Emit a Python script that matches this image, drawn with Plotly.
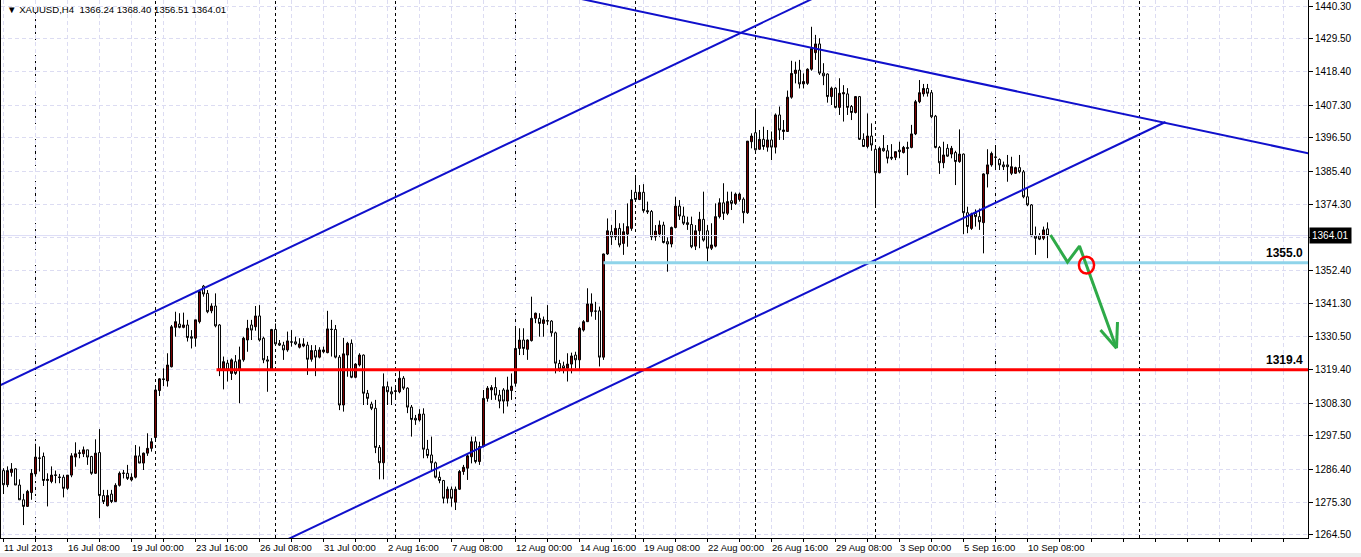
import plotly.graph_objects as go

# ---------------- data ----------------
symbol_title = "▼ XAUUSD,H4  1366.24 1368.40 1356.51 1364.01"

opens = [1285.9,1281.2,1285.3,1286.5,1281.1,1276.2,1274.0,1278.6,1284.8,1290.1,
 1290.6,1282.6,1282.3,1284.5,1283.8,1283.7,1280.0,1284.4,1290.4,1291.6,
 1291.5,1292.8,1290.6,1285.0,1291.9,1277.6,1274.2,1278.1,1275.6,1281.0,
 1285.1,1285.0,1282.8,1283.7,1290.8,1288.4,1291.7,1293.3,1296.9,1312.5,
 1316.4,1315.7,1320.4,1333.5,1334.6,1333.5,1334.3,1330.4,1329.9,1335.4,
 1347.2,1344.8,1339.0,1340.6,1334.3,1319.3,1321.6,1318.2,1322.1,1319.3,
 1322.7,1329.3,1334.3,1333.7,1337.3,1329.9,1322.7,1319.3,1332.8,1328.2,
 1327.6,1326.0,1328.7,1328.7,1326.9,1327.3,1327.6,1322.9,1325.8,1323.6,
 1325.4,1325.1,1332.9,1332.8,1323.6,1307.7,1324.3,1328.2,1316.9,1321.0,
 1324.3,1311.6,1308.0,1306.6,1293.6,1288.5,1313.8,1312.1,1312.2,1312.1,
 1316.6,1313.3,1307.0,1303.3,1302.7,1304.7,1293.0,1291.1,1288.5,1283.7,
 1282.6,1276.7,1279.7,1275.4,1279.7,1285.6,1286.7,1290.5,1295.5,1288.9,
 1293.9,1309.9,1312.7,1313.5,1311.0,1312.7,1309.0,1312.5,1314.9,1326.5,
 1329.3,1326.2,1329.1,1336.5,1336.5,1334.8,1335.6,1335.6,1331.7,1321.5,
 1320.7,1319.9,1321.3,1324.3,1322.7,1332.6,1335.4,1338.7,1338.9,1339.0,
 1323.6,1357.9,1365.3,1363.6,1366.4,1361.4,1364.5,1366.4,1378.4,1376.0,
 1378.4,1372.3,1372.0,1363.6,1364.5,1367.5,1362.0,1361.2,1366.7,1373.8,
 1370.5,1368.3,1367.7,1360.5,1365.6,1369.4,1365.6,1359.8,1360.5,1370.3,
 1374.9,1371.4,1375.6,1374.7,1376.0,1376.1,1371.6,1395.2,1398.2,1392.7,
 1396.0,1393.4,1395.8,1393.4,1404.1,1398.6,1398.6,1410.0,1417.9,1419.0,
 1414.4,1414.6,1419.3,1424.8,1427.7,1418.0,1417.7,1410.2,1413.0,1406.6,
 1411.1,1411.1,1406.9,1404.9,1410.2,1396.0,1393.6,1397.1,1392.7,1384.9,
 1393.0,1392.2,1389.7,1390.0,1392.4,1391.6,1393.3,1393.3,1397.8,1408.5,
 1411.1,1412.9,1411.5,1403.7,1393.3,1388.2,1393.0,1391.1,1391.6,1388.6,
 1391.1,1371.6,1366.4,1371.4,1370.3,1368.3,1384.5,1387.5,1390.0,1389.3,
 1387.5,1387.5,1384.7,1384.7,1386.6,1385.2,1376.9,1374.2,1363.9,1363.9,
 1363.1,1366.24]
highs = [1286.7,1287.3,1288.4,1286.7,1283.0,1278.2,1279.5,1286.4,1294.8,1293.9,
 1291.9,1285.0,1287.3,1285.9,1284.8,1284.5,1284.4,1291.7,1295.3,1292.8,
 1293.9,1292.8,1290.8,1296.3,1299.7,1279.5,1279.5,1279.5,1281.7,1285.6,
 1286.1,1287.8,1285.0,1294.4,1293.9,1291.9,1298.3,1296.7,1313.3,1316.6,
 1319.9,1324.9,1334.3,1338.7,1338.2,1338.4,1336.0,1332.6,1336.0,1345.9,
 1347.6,1345.9,1341.5,1344.8,1334.6,1323.8,1322.7,1323.2,1324.3,1327.1,
 1330.4,1336.0,1336.0,1340.6,1340.9,1330.4,1324.0,1333.0,1334.8,1329.3,
 1328.7,1332.1,1332.6,1330.4,1329.9,1329.9,1328.7,1327.6,1327.6,1326.9,
 1327.1,1339.0,1336.0,1334.3,1324.3,1330.0,1328.7,1329.5,1321.6,1324.9,
 1324.5,1312.7,1308.8,1309.4,1294.4,1318.2,1315.5,1313.8,1314.3,1319.3,
 1317.3,1313.6,1307.7,1304.4,1306.3,1306.6,1296.1,1297.2,1288.9,1285.6,
 1282.8,1280.6,1280.6,1280.6,1286.1,1287.8,1291.7,1297.2,1297.2,1295.5,
 1312.7,1314.0,1314.3,1316.9,1312.7,1313.3,1317.1,1318.2,1333.7,1333.2,
 1333.2,1329.5,1343.7,1338.4,1338.2,1337.1,1340.9,1335.9,1332.1,1322.7,
 1322.1,1324.9,1325.1,1325.4,1333.7,1335.9,1346.5,1344.8,1342.0,1340.4,
 1358.0,1369.7,1367.5,1372.5,1368.1,1368.1,1374.7,1379.2,1384.1,1380.8,
 1381.1,1375.3,1372.5,1367.5,1369.0,1368.6,1363.4,1367.0,1376.9,1375.8,
 1373.6,1370.3,1370.3,1367.5,1371.9,1378.6,1367.5,1368.1,1374.7,1376.4,
 1381.4,1378.6,1378.6,1378.3,1378.3,1376.7,1395.4,1398.0,1406.3,1399.1,
 1400.2,1399.1,1398.6,1404.6,1406.9,1402.4,1412.2,1422.1,1421.8,1422.4,
 1417.9,1419.6,1433.4,1430.7,1429.6,1421.3,1417.9,1413.5,1413.3,1416.3,
 1414.0,1413.0,1407.4,1410.4,1410.4,1398.0,1404.6,1401.3,1394.1,1393.6,
 1397.4,1394.1,1394.4,1391.9,1395.2,1393.8,1395.2,1400.8,1409.1,1415.7,
 1414.4,1414.4,1412.4,1404.1,1393.8,1395.2,1394.4,1393.8,1392.2,1399.3,
 1391.3,1373.6,1371.6,1372.7,1373.0,1384.7,1392.7,1391.9,1394.1,1389.7,
 1388.6,1390.8,1390.2,1386.9,1390.8,1385.8,1380.0,1374.5,1367.0,1364.8,
 1367.0,1368.40]
lows = [1278.1,1280.4,1283.9,1281.1,1276.2,1267.8,1273.8,1276.2,1283.9,1285.6,
 1280.8,1274.0,1281.7,1281.7,1281.7,1277.0,1279.5,1283.7,1287.2,1290.0,
 1290.4,1287.8,1284.5,1284.8,1270.1,1274.8,1274.0,1275.1,1275.5,1280.6,
 1283.3,1282.8,1282.3,1283.3,1288.4,1286.1,1290.8,1292.2,1295.5,1310.7,
 1314.0,1313.8,1320.2,1330.4,1333.2,1333.2,1328.8,1326.5,1327.1,1334.8,
 1343.7,1338.2,1338.2,1333.5,1317.3,1312.9,1315.5,1316.0,1317.7,1308.3,
 1322.1,1325.4,1329.3,1332.4,1328.8,1321.6,1312.1,1319.0,1327.6,1327.3,
 1322.7,1325.4,1327.1,1327.6,1326.5,1326.9,1317.7,1322.1,1317.3,1323.2,
 1324.9,1324.9,1323.8,1323.2,1306.0,1305.5,1317.1,1316.6,1316.6,1320.5,
 1307.7,1307.7,1306.0,1291.7,1283.0,1283.0,1307.7,1307.7,1309.4,1311.6,
 1312.7,1305.0,1297.2,1301.1,1302.2,1290.0,1290.0,1285.6,1283.3,1281.7,
 1275.0,1275.0,1273.9,1272.8,1279.5,1284.5,1282.8,1288.3,1288.3,1287.8,
 1293.6,1308.8,1309.4,1309.4,1306.6,1304.9,1307.2,1309.4,1313.8,1324.3,
 1324.3,1322.7,1328.8,1334.9,1330.4,1330.4,1334.3,1330.4,1318.2,1318.8,
 1318.2,1315.5,1318.2,1319.9,1319.3,1332.1,1335.4,1337.1,1336.0,1320.5,
 1322.7,1357.6,1360.9,1362.5,1360.1,1357.6,1360.3,1365.6,1375.8,1375.8,
 1371.6,1371.2,1362.5,1362.3,1363.6,1361.4,1352.0,1360.1,1366.4,1369.2,
 1367.5,1365.9,1359.8,1359.2,1359.8,1362.0,1355.3,1359.2,1360.1,1369.7,
 1369.2,1370.8,1372.5,1374.2,1375.3,1368.1,1371.2,1393.0,1392.2,1392.5,
 1392.5,1391.9,1389.1,1391.3,1395.8,1395.8,1398.6,1409.5,1414.6,1412.9,
 1412.9,1414.1,1418.8,1422.4,1417.4,1414.0,1408.2,1407.4,1406.3,1404.1,
 1401.9,1404.1,1402.4,1404.6,1395.8,1393.6,1393.0,1392.2,1373.6,1384.7,
 1391.9,1388.0,1389.1,1389.1,1389.7,1391.3,1384.1,1393.0,1397.4,1408.0,
 1410.2,1410.2,1403.0,1393.0,1384.5,1386.4,1390.2,1389.7,1380.8,1388.2,
 1364.5,1364.8,1365.9,1367.0,1365.9,1358.1,1380.0,1386.9,1385.8,1385.8,
 1385.8,1381.9,1384.1,1384.5,1384.7,1376.4,1373.8,1363.7,1357.6,1362.5,
 1362.5,1356.51]
closes = [1281.2,1285.9,1286.4,1281.1,1276.2,1274.0,1279.0,1285.0,1290.4,1290.0,
 1282.6,1283.0,1284.4,1284.3,1283.6,1280.0,1284.4,1290.8,1291.5,1291.8,
 1292.8,1290.4,1285.0,1291.7,1277.6,1275.6,1277.6,1275.6,1281.0,1285.0,
 1285.0,1283.3,1283.7,1290.8,1288.4,1291.7,1293.3,1295.5,1312.7,1316.4,
 1316.2,1321.0,1333.7,1335.4,1333.5,1334.3,1330.1,1329.9,1336.0,1345.4,
 1344.6,1338.7,1340.6,1334.0,1319.3,1322.1,1319.3,1322.7,1318.2,1322.7,
 1329.9,1333.2,1332.6,1337.3,1329.3,1322.7,1322.3,1332.8,1328.0,1327.6,
 1326.0,1329.0,1328.6,1328.0,1328.0,1328.0,1322.9,1325.8,1323.6,1326.0,
 1326.0,1333.0,1332.8,1323.6,1307.7,1324.7,1328.2,1316.9,1321.3,1324.3,
 1311.6,1309.9,1306.6,1293.6,1288.5,1313.8,1312.1,1311.4,1312.4,1316.6,
 1313.3,1307.0,1302.9,1302.7,1304.7,1293.0,1290.9,1288.5,1283.7,1282.6,
 1276.7,1279.7,1276.7,1279.7,1285.6,1287.0,1290.8,1295.5,1288.9,1293.9,
 1309.9,1313.3,1313.5,1311.0,1309.0,1309.0,1312.7,1314.0,1326.5,1329.3,
 1326.5,1329.3,1336.5,1338.2,1334.8,1336.0,1335.7,1331.7,1321.6,1319.6,
 1319.8,1321.3,1324.0,1322.7,1333.2,1335.4,1341.3,1341.3,1338.9,1323.6,
 1357.9,1365.6,1363.6,1366.4,1360.9,1365.3,1367.0,1376.0,1376.0,1378.4,
 1372.3,1371.9,1363.6,1365.5,1367.5,1361.7,1361.2,1366.7,1373.8,1370.5,
 1368.1,1367.7,1360.3,1365.6,1369.4,1362.5,1359.8,1360.9,1370.3,1374.9,
 1371.4,1375.3,1374.7,1377.8,1377.8,1371.6,1395.4,1397.1,1392.5,1396.0,
 1393.6,1395.8,1393.4,1404.1,1399.1,1399.1,1410.0,1417.9,1419.0,1414.4,
 1415.2,1419.3,1426.2,1427.7,1418.0,1417.1,1410.2,1413.0,1406.6,1411.3,
 1411.5,1406.6,1404.9,1410.2,1396.0,1393.6,1397.1,1394.1,1384.9,1393.0,
 1392.2,1389.7,1390.0,1391.9,1391.9,1393.3,1393.0,1397.8,1408.5,1411.5,
 1412.9,1411.3,1403.5,1393.3,1388.2,1390.8,1390.4,1393.0,1388.6,1391.1,
 1371.6,1367.0,1371.2,1370.3,1368.6,1384.5,1387.5,1391.3,1390.1,1387.5,
 1386.9,1386.9,1386.9,1386.6,1385.2,1376.9,1374.2,1363.9,1363.1,1362.8,
 1365.9,1364.01]

# time axis labels (bar index -> text)
label_bars = [0, 16, 32, 48, 64, 80, 96, 112, 128, 144, 160, 176, 192, 208, 224, 240, 256]
label_texts = ["11 Jul 2013", "16 Jul 08:00", "19 Jul 00:00", "23 Jul 16:00", "26 Jul 08:00",
               "31 Jul 00:00", "2 Aug 16:00", "7 Aug 08:00", "12 Aug 00:00", "14 Aug 16:00",
               "19 Aug 08:00", "22 Aug 00:00", "26 Aug 16:00", "29 Aug 08:00", "3 Sep 00:00",
               "5 Sep 16:00", "10 Sep 08:00"]
week_separator_bars = [8, 38, 68, 98, 128, 158, 188, 218, 248, 284]

price_ticks = [1440.30, 1429.50, 1418.40, 1407.30, 1396.50, 1385.40, 1374.30, 1363.50,
               1352.40, 1341.30, 1330.50, 1319.40, 1308.30, 1297.50, 1286.40, 1275.30, 1264.50]

# drawn objects (bar index, price)
upper_channel_x = [-2, 203]
upper_channel_y = [1313.55, 1443.2]
lower_channel_x = [70, 290.5]
lower_channel_y = [1262.4, 1401.75]
falling_line_x = [140, 330]
falling_line_y = [1443.9, 1390.3]
support_level = 1355.0
support_start = 150
target_level = 1319.4
target_start = 53.25
forecast_x = [261.75, 266, 269, 278.25]
forecast_y = [1364.2, 1355.2, 1360.5, 1326.6]
arrow_left_x = [274.25, 278.25]
arrow_left_y = [1332.6, 1326.6]
arrow_right_x = [278.5, 278.25]
arrow_right_y = [1335.3, 1326.6]
circle_center = (270.75, 1354.2)
circle_half = (1.9, 2.8)
last_price = 1364.01

X_RANGE = [-0.625, 326.125]
Y_RANGE = [1263.5, 1442.3]

BLUE = "#1010cc"
FONT = "Liberation Sans, Arial, sans-serif"

fig = go.Figure()

fig.add_trace(go.Candlestick(
    x=list(range(len(opens))), open=opens, high=highs, low=lows, close=closes,
    increasing=dict(fillcolor="#800000", line=dict(color="#000000", width=1)),
    decreasing=dict(fillcolor="#ffffff", line=dict(color="#000000", width=1)),
    whiskerwidth=0, showlegend=False, hoverinfo="skip"))

def line(xs, ys, color, width):
    fig.add_trace(go.Scatter(x=xs, y=ys, mode="lines", line=dict(color=color, width=width),
                             showlegend=False, hoverinfo="skip"))

# last price (ask) line
line([X_RANGE[0], X_RANGE[1]], [last_price, last_price], "#dcdcf6", 1)
line(upper_channel_x, upper_channel_y, BLUE, 2)
line(lower_channel_x, lower_channel_y, BLUE, 2)
line(falling_line_x, falling_line_y, BLUE, 2)
line([support_start, X_RANGE[1] + 2], [support_level, support_level], "#8fd4ea", 3)
line([target_start, X_RANGE[1] + 2], [target_level, target_level], "#ff0000", 3)
line(forecast_x, forecast_y, "#2eaa48", 3)
line(arrow_left_x, arrow_left_y, "#2eaa48", 3)
line(arrow_right_x, arrow_right_y, "#2eaa48", 3)

shapes = []
for b in week_separator_bars:
    shapes.append(dict(type="line", xref="x", yref="paper", x0=b, x1=b, y0=0, y1=1,
                       line=dict(color="#000000", width=1, dash="3px,3px"), layer="below"))
shapes.append(dict(type="circle", xref="x", yref="y",
                   x0=circle_center[0] - circle_half[0], x1=circle_center[0] + circle_half[0],
                   y0=circle_center[1] - circle_half[1], y1=circle_center[1] + circle_half[1],
                   line=dict(color="#ff0000", width=2.5)))
shapes.append(dict(type="rect", xref="paper", yref="paper", x0=-0.01, x1=1.05, y0=-0.0355, y1=-0.028,
                   fillcolor="#ececec", line=dict(width=0), layer="below"))

annotations = [
    dict(text=symbol_title, xref="paper", yref="paper", x=0.003, y=1, xanchor="left", yanchor="top",
         yshift=-2, showarrow=False, font=dict(family=FONT, size=9.6, color="#000000")),
    dict(text="<b>%.1f</b>" % support_level, xref="x", yref="y", x=325.4, y=support_level,
         xanchor="right", yanchor="bottom", yshift=1, showarrow=False,
         font=dict(family=FONT, size=12, color="#000000")),
    dict(text="<b>%.1f</b>" % target_level, xref="x", yref="y", x=325.4, y=target_level,
         xanchor="right", yanchor="bottom", yshift=1, showarrow=False,
         font=dict(family=FONT, size=12, color="#000000")),
    dict(text="%.2f" % last_price, xref="paper", yref="y", x=1, y=last_price, xanchor="left",
         yanchor="middle", xshift=1, showarrow=False, bgcolor="#000000", borderpad=2,
         font=dict(family=FONT, size=10, color="#ffffff")),
]
for b, t in zip(label_bars, label_texts):
    annotations.append(dict(text=t, xref="x", yref="paper", x=b, y=0, xanchor="left", yanchor="top",
                            xshift=-2, yshift=-2, showarrow=False,
                            font=dict(family=FONT, size=9.5, color="#000000")))

# the tick under the last-price box is hidden, as in the terminal
tick_text = ["" if abs(v - 1363.50) < 1e-6 else "%.2f" % v for v in price_ticks]

fig.update_layout(
    width=1361, height=557, margin=dict(l=1, r=53, t=0, b=19),
    paper_bgcolor="#ffffff", plot_bgcolor="#ffffff",
    shapes=shapes, annotations=annotations, showlegend=False,
    xaxis=dict(range=X_RANGE, rangeslider=dict(visible=False), showline=True, linecolor="#000000",
               linewidth=1, ticks="outside", ticklen=3, tickcolor="#000000",
               tickvals=list(range(0, 330, 8)), showticklabels=False,
               showgrid=True, gridcolor="#dcdcf2", griddash="4px,3px", gridwidth=1, zeroline=False),
    yaxis=dict(range=Y_RANGE, side="right", showline=True, mirror=True, linecolor="#000000",
               linewidth=1, ticks="outside", ticklen=4, tickcolor="#000000",
               tickvals=price_ticks, ticktext=tick_text,
               tickfont=dict(family=FONT, size=10, color="#000000"),
               showgrid=True, gridcolor="#dcdcf2", griddash="4px,3px", gridwidth=1, zeroline=False),
)

fig.write_html("out.html", config={"displayModeBar": False},
               post_script="document.body.style.margin='0';document.body.style.overflow='hidden';")
